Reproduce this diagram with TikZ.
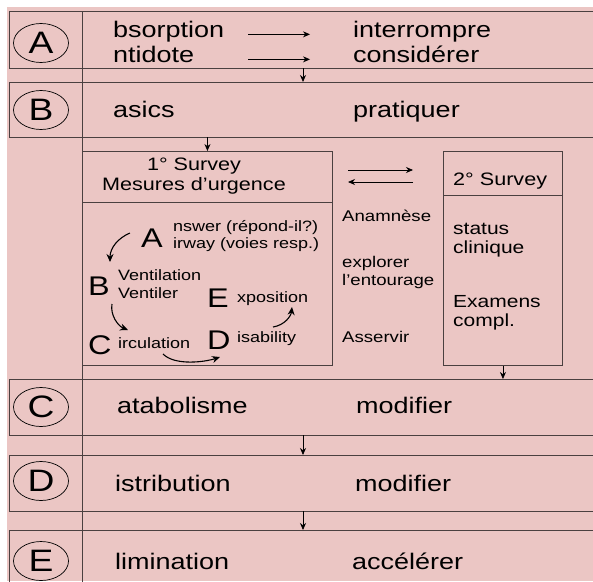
\documentclass[tikz,border=0pt]{standalone}
\usepackage{fontspec}
\setmainfont[FakeStretch=1.2]{Liberation Sans}
\usepackage{tikz}
\usetikzlibrary{arrows.meta,positioning,calc,shapes.geometric}
\definecolor{rosebg}{HTML}{EBC6C4}
\definecolor{framegray}{HTML}{4A4040}

\begin{document}
\begin{tikzpicture}[
	x=1pt, y=-1pt,
	frame/.style={draw=framegray, line width=0.9pt},
	rowbox/.style={rectangle, anchor=north west, minimum width=600pt, inner sep=0pt},
	survbox/.style={rectangle, anchor=north west, inner sep=0pt, frame},
	circ/.style={ellipse, draw=black, line width=0.7pt, minimum width=55pt, minimum height=39pt, inner sep=0pt, font=\fontsize{31}{31}\selectfont},
	rowtxt/.style={anchor=base west, inner sep=0pt, font=\fontsize{22.5}{27}\selectfont},
	headtxt/.style={anchor=base west, inner sep=0pt, font=\fontsize{18}{22}\selectfont},
	bodytxt/.style={anchor=base west, inner sep=0pt, font=\fontsize{17.5}{21}\selectfont},
	sidetxt/.style={anchor=base west, inner sep=0pt, font=\fontsize{15.5}{19}\selectfont},
	bigl/.style={anchor=base west, inner sep=0pt, font=\fontsize{27}{27}\selectfont},
	smalltxt/.style={anchor=base west, inner sep=0pt, font=\fontsize{15}{18}\selectfont},
	arr/.style={-{Stealth[length=7pt, width=6pt]}, line width=0.8pt},
	curvearr/.style={-{Stealth[length=8pt, width=7pt]}, line width=1.1pt}
]
\useasboundingbox (0,0) rectangle (593,581);
\clip (0,0) rectangle (593,581);
\fill[white] (0,0) rectangle (593,581);
\fill[rosebg] (7,7) rectangle (593,581);

% the five rows
\node[rowbox, minimum height=57pt] (rowA) at (9,11) {};
\node[rowbox, minimum height=55pt] (rowB) at (9,82) {};
\node[rowbox, minimum height=56pt] (rowC) at (9,379) {};
\node[rowbox, minimum height=56pt] (rowD) at (9,455) {};
\node[rowbox, minimum height=60pt] (rowE) at (9,530) {};
\foreach \r in {rowA,rowB,rowC,rowD,rowE}
	\draw[frame] (\r.north east) -- (\r.north west) -- (\r.south west) -- (\r.south east);

\node[circ] (cA) at (41,43) {A};
\node[circ] (cB) at (41,110) {B};
\node[circ] (cC) at (41,407) {C};
\node[circ] (cD) at (41,481) {D};
\node[circ] (cE) at (41,561) {E};

\node[rowtxt] (bsorp) at (113,37) {bsorption};
\node[rowtxt] (ntid) at (113,62) {ntidote};
\node[rowtxt] (interr) at (353,37) {interrompre};
\node[rowtxt] (consid) at (353,62) {considérer};
\node[rowtxt] (asics) at (113,117) {asics};
\node[rowtxt] (prat) at (353,117) {pratiquer};
\node[rowtxt] (catab) at (117,413) {atabolisme};
\node[rowtxt] (modC) at (356,413) {modifier};
\node[rowtxt] (distr) at (115,491) {istribution};
\node[rowtxt] (modD) at (355,491) {modifier};
\node[rowtxt] (elim) at (115,569) {limination};
\node[rowtxt] (accel) at (352,569) {accélérer};

% the two surveys
\node[survbox, minimum width=250pt, minimum height=51pt] (sv1head) at (82,151) {};
\node[survbox, minimum width=250pt, minimum height=163pt] (sv1body) at (82,202) {};
\node[survbox, minimum width=119pt, minimum height=44pt] (sv2head) at (443,151) {};
\node[survbox, minimum width=119pt, minimum height=170pt] (sv2body) at (443,195) {};

\draw[frame] (rowA.north west -| sv1head.west) -- (rowE.south west -| sv1head.west);

\node[headtxt, anchor=base] (sv1a) at (194,170) {1° Survey};
\node[headtxt, anchor=base] (sv1b) at (194,190) {Mesures d’urgence};
\node[headtxt] (sv2a) at (453,185) {2° Survey};
\node[bodytxt] (stat) at (453,234) {status};
\node[bodytxt] (clin) at (453,253) {clinique};
\node[bodytxt] (exam) at (453,307) {Examens};
\node[bodytxt] (compl) at (453,326) {compl.};

\node[sidetxt] (anam) at (342,221) {Anamnèse};
\node[sidetxt] (expl) at (342,267) {explorer};
\node[sidetxt] (entour) at (342,285) {l’entourage};
\node[sidetxt] (asserv) at (342,342) {Asservir};

\node[bigl] (bigA) at (141,247) {A};
\node[bigl] (bigB) at (88,295) {B};
\node[bigl] (bigC) at (88,354) {C};
\node[bigl] (bigD) at (207,349) {D};
\node[bigl] (bigE) at (207,307) {E};
\node[smalltxt] (answ) at (173,231) {nswer (répond-il?)};
\node[smalltxt] (airw) at (173,248) {irway (voies resp.)};
\node[smalltxt] (vent) at (118,280) {Ventilation};
\node[smalltxt] (ventl) at (118,298) {Ventiler};
\node[smalltxt] (expo) at (237,302) {xposition};
\node[smalltxt] (circu) at (118,348) {irculation};
\node[smalltxt] (disab) at (237,342) {isability};

% arrows
\coordinate (arrL) at (248,0);
\coordinate (arrR) at (310,0);
\coordinate (midx) at (303,0);
\draw[arr] (bsorp.mid east -| arrL) -- (interr.mid west -| arrR);
\draw[arr] (ntid.mid east -| arrL) -- (consid.mid west -| arrR);
\draw[arr] (rowA.south -| midx) -- (rowB.north -| midx);
\draw[arr] (rowB.south -| sv1head.north) -- (sv1head.north);
\draw[arr] (sv2body.south) -- (sv2body.south |- rowC.north);
\draw[arr] (rowC.south -| midx) -- (rowD.north -| midx);
\draw[arr] (rowD.south -| midx) -- (rowE.north -| midx);

\coordinate (fwdL) at (348,170);
\coordinate (fwdR) at (413,170);
\coordinate (bckL) at (348,182);
\coordinate (bckR) at (413,182);
\draw[arr] (fwdL) -- (fwdR);
\draw[arr] (bckR) -- (bckL);

\coordinate (ab1) at (130,233); \coordinate (ab2) at (110,262);
\coordinate (bc1) at (112,304); \coordinate (bc2) at (128,330);
\coordinate (cd1) at (163,354); \coordinate (cd2) at (220,357);
\coordinate (de1) at (273,327); \coordinate (de2) at (292,307);
\draw[curvearr] (ab1) .. controls (118,238) and (110,248) .. (ab2);
\draw[curvearr] (bc1) .. controls (110,315) and (118,326) .. (bc2);
\draw[curvearr] (cd1) .. controls (175,366) and (205,362) .. (cd2);
\draw[curvearr] (de1) .. controls (285,325) and (291,316) .. (de2);
\end{tikzpicture}
\end{document}
